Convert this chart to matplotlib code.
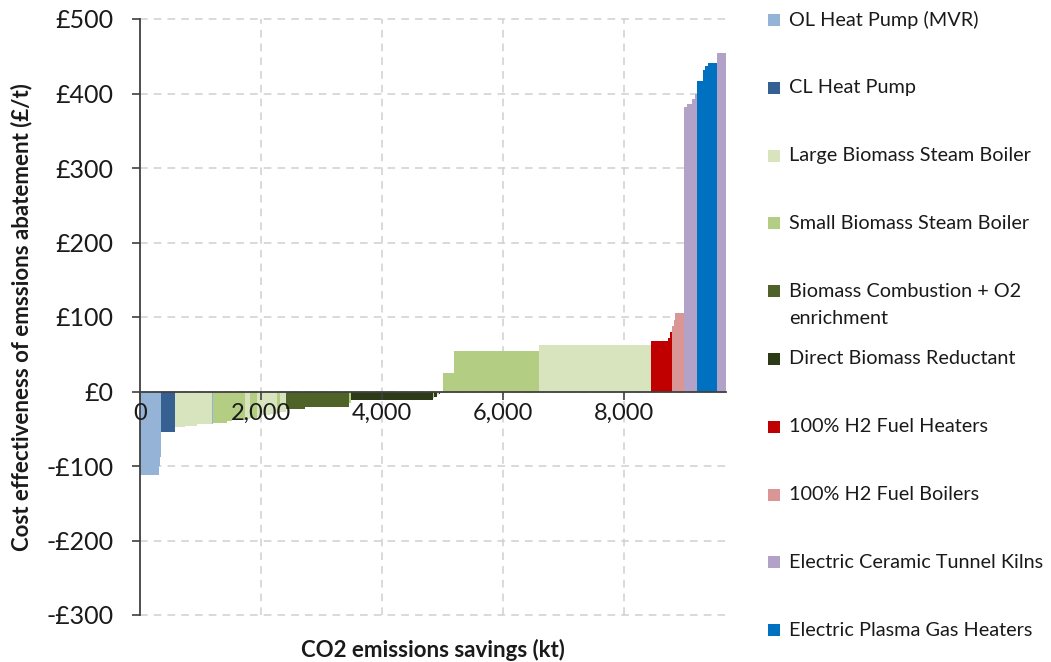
import numpy as np
import matplotlib
matplotlib.use("Agg")
import matplotlib.pyplot as plt
from matplotlib.patches import Rectangle
from matplotlib.ticker import FuncFormatter

plt.rcParams['font.family'] = ['Lato', 'DejaVu Sans']

# ---------------- data ----------------
technologies = [
    "OL Heat Pump (MVR)",
    "CL Heat Pump",
    "Large Biomass Steam Boiler",
    "Small Biomass Steam Boiler",
    "Biomass Combustion + O2\nenrichment",
    "Direct Biomass Reductant",
    "100% H2 Fuel Heaters",
    "100% H2 Fuel Boilers",
    "Electric Ceramic Tunnel Kilns",
    "Electric Plasma Gas Heaters",
]
tech_colors = ["#95B3D7", "#376092", "#D7E4BD", "#B3CD83", "#4F6228",
               "#2D3A16", "#C00000", "#DA9694", "#B3A2C7", "#0070C0"]

# each abatement measure: technology index, CO2 saving (kt), cost (GBP/t)
seg_tech = [0, 0, 0,
            1,
            2, 2, 2, 2, 0, 3, 3, 1, 3, 2, 3, 2, 2, 2, 3, 2,
            4, 4,
            3, 5, 3, 5, 2, 5, 3,
            3, 3, 2,
            6, 6, 6,
            7, 7, 7,
            8, 8, 8, 8,
            9, 9, 9, 9,
            8]
seg_width = [310, 20, 20,
             230,
             50, 115, 190, 250, 27, 220, 84, 10, 210, 82, 111, 83, 137, 111, 60, 90,
             317, 720,
             40, 1360, 20, 40, 30, 30, 40,
             180, 1410, 1850,
             280, 30, 34,
             36, 20, 140,
             60, 70, 50, 40,
             100, 30, 60, 140,
             150]
seg_value = [-112, -100, -88,
             -54,
             -48, -47, -46, -44, -43, -42, -40, -39, -38, -37, -35, -34, -32, -30, -29, -27,
             -23, -21,
             -15, -12, -9, -8, -5, -4, -2,
             25, 54, 63,
             68, 72, 80,
             88, 96, 105,
             382, 386, 392, 400,
             417, 432, 437, 441,
             454]

y_ticks = [-300, -200, -100, 0, 100, 200, 300, 400, 500]
x_ticks = [0, 2000, 4000, 6000, 8000]

# ---------------- figure ----------------
W, H = 1051, 662
fig = plt.figure(figsize=(W / 100, H / 100), dpi=100)
ax_l, ax_r, ax_t, ax_b = 140, 726, 19, 615
ax = fig.add_axes([ax_l / W, 1 - ax_b / H, (ax_r - ax_l) / W, (ax_b - ax_t) / H])

lefts = np.concatenate([[0], np.cumsum(seg_width)[:-1]])
colors = [tech_colors[t] for t in seg_tech]
ax.bar(lefts, seg_value, width=seg_width, align='edge', color=colors,
       edgecolor='none', linewidth=0, zorder=2)

ax.set_xlim(0, float(np.sum(seg_width)))
ax.set_ylim(min(y_ticks), max(y_ticks))
ax.set_yticks(y_ticks)
ax.set_xticks(x_ticks)

def money(v, pos):
    v = int(round(v))
    return f"-£{abs(v)}" if v < 0 else f"£{v}"

ax.yaxis.set_major_formatter(FuncFormatter(money))
ax.xaxis.set_major_formatter(FuncFormatter(lambda v, p: f"{int(v):,}"))

# axis (ticks + labels) above the bars; dashed gridlines drawn separately below them
ax.set_axisbelow(False)
ax.xaxis.set_zorder(3)
ax.yaxis.set_zorder(3)
grid_style = dict(color='#D0D0D0', linestyle=(0, (5, 4)), linewidth=1.1, zorder=0.5)
for yv in y_ticks:
    ax.axhline(yv, **grid_style, clip_on=False)
for xv in x_ticks[1:]:
    ax.axvline(xv, **grid_style)

for s in ['top', 'right']:
    ax.spines[s].set_visible(False)
ax.spines['bottom'].set_position(('data', 0))
ax.spines['bottom'].set_color('#404040')
ax.spines['bottom'].set_linewidth(1.3)
ax.spines['bottom'].set_zorder(3)
ax.spines['left'].set_color('#404040')
ax.spines['left'].set_linewidth(1.3)
ax.spines['left'].set_zorder(3)

ax.tick_params(axis='both', colors='#404040', labelcolor='#1a1a1a', length=6, width=1.2,
               labelsize=17)
ax.tick_params(axis='y', labelsize=18, pad=13)
ax.tick_params(axis='x', pad=2)

fig.text(22 / W, 1 - 317 / H, "Cost effectiveness of emssions abatement (£/t)",
         rotation=90, ha='center', va='center', fontsize=16, fontweight='bold', color='#1a1a1a')
fig.text(433 / W, 1 - 650 / H, "CO2 emissions savings (kt)",
         ha='center', va='center', fontsize=16, fontweight='bold', color='#1a1a1a')

# legend drawn manually
leg_y0, leg_dy = 20, 67.8
sq = 12
for i, (lab, col) in enumerate(zip(technologies, tech_colors)):
    yc = leg_y0 + i * leg_dy
    fig.add_artist(Rectangle(((774 - sq / 2) / W, 1 - (yc + sq / 2) / H), sq / W, sq / H,
                             transform=fig.transFigure, facecolor=col, edgecolor='none'))
    for j, line in enumerate(lab.split("\n")):
        fig.text(789 / W, 1 - (yc + j * 27) / H, line, ha='left', va='center',
                 fontsize=14.3, color='#1a1a1a')

fig.savefig("out.png", dpi=100)
